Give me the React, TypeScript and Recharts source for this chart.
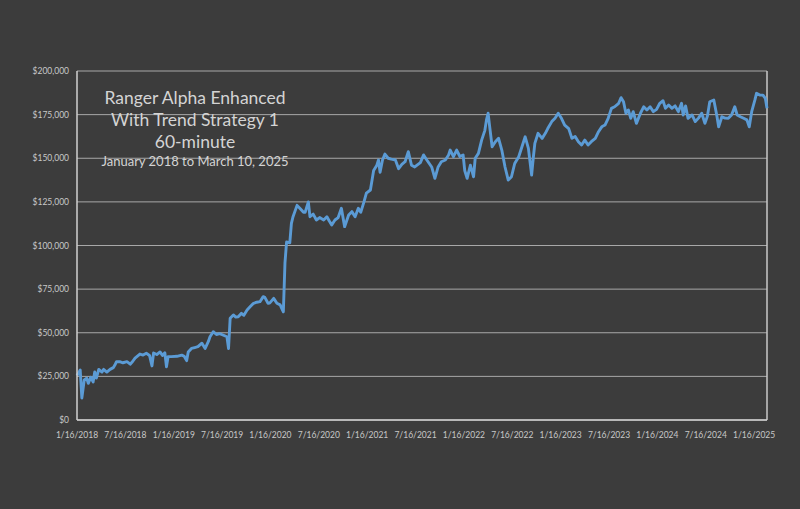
import React from 'react';
import { LineChart, Line, XAxis, YAxis, CartesianGrid, ReferenceLine } from 'recharts';

// months since 1/16/2018
const months = [
  0, 0.4, 0.6, 0.9, 1.2, 1.4, 1.7, 2.0, 2.2, 2.4, 2.7, 3.1, 3.3, 3.7, 4.1, 4.5, 4.7, 4.9, 5.3, 5.7,
  6.2, 6.6, 6.9, 7.2, 7.8, 8.2, 8.6, 9.0, 9.3, 9.5, 9.9, 10.3, 10.6, 10.9, 11.1, 11.3, 11.7, 12.4, 13.0, 13.3,
  13.6, 13.8, 14.2, 14.6, 15.0, 15.5, 15.9, 16.3, 16.5, 16.9, 17.3, 17.7, 18.1, 18.6, 18.8, 19.0, 19.4, 19.7, 20.0, 20.4,
  20.7, 21.1, 21.5, 21.9, 22.3, 22.7, 23.1, 23.3, 23.7, 23.9, 24.4, 24.8, 25.2, 25.6, 25.8, 26.0, 26.4, 26.6, 26.8, 27.3,
  27.7, 28.1, 28.3, 28.7, 28.9, 29.3, 29.7, 30.1, 30.6, 31.0, 31.3, 31.6, 32.0, 32.4, 32.8, 33.2, 33.7, 34.1, 34.5, 34.9,
  35.2, 35.6, 35.9, 36.4, 36.8, 37.2, 37.4, 37.6, 37.9, 38.2, 38.6, 39.0, 39.5, 39.9, 40.3, 40.7, 41.1, 41.5, 41.9, 42.6,
  43.0, 43.4, 44.0, 44.4, 44.8, 45.2, 45.7, 46.1, 46.3, 46.7, 47.1, 47.5, 47.9, 48.1, 48.4, 48.8, 49.2, 49.4, 49.8, 50.2,
  50.6, 50.8, 51.0, 51.2, 51.5, 51.9, 52.3, 52.7, 53.1, 53.5, 53.9, 54.3, 54.8, 55.2, 55.6, 56.0, 56.4, 56.6, 56.8, 57.2,
  57.7, 58.1, 58.4, 58.9, 59.3, 59.7, 60.1, 60.5, 61.0, 61.4, 61.8, 62.2, 62.6, 63.0, 63.4, 63.8, 64.3, 64.7, 65.1, 65.5,
  65.9, 66.3, 66.7, 67.2, 67.5, 67.8, 68.1, 68.4, 68.7, 69.0, 69.4, 69.9, 70.3, 70.7, 71.1, 71.5, 71.9, 72.3, 72.7, 73.0,
  73.4, 73.8, 74.2, 74.6, 75.0, 75.2, 75.5, 75.8, 76.3, 76.7, 77.1, 77.5, 77.9, 78.2, 78.5, 79.0, 79.2, 79.4, 79.6, 80.0,
  80.4, 80.8, 81.2, 81.6, 81.9, 82.3, 82.7, 83.1, 83.4, 83.7, 84.1, 84.3, 84.7, 85.1, 85.4, 85.6,
];

// equity in thousands of dollars
const equityK = [
  25.5, 28.6, 12.6, 23, 24, 21, 24.5, 21.8, 27.5, 24, 29, 27.5, 29, 27.5, 29, 30, 31.5, 33.4, 33.4, 32.8,
  33.4, 32, 33.5, 35.5, 37.8, 37.2, 38.2, 37, 31, 38.4, 37.5, 39, 37, 38.5, 30.5, 36.3, 36.3, 36.5, 37.2, 36.5,
  34, 39, 41, 41.5, 42, 44, 41, 45, 47.7, 50.6, 49, 49.5, 48.7, 47.7, 41, 58.3, 60.2, 59, 59.2, 61.1,
  60, 63, 65, 66.9, 67.5, 67.8, 70.7, 70.3, 66.9, 67, 69.7, 66.9, 66, 62, 90, 102, 101.5, 112.7, 116.5, 123,
  121, 119, 119, 125, 116.5, 118, 114.6, 116, 114.6, 116.5, 114, 111.7, 114.6, 116, 121.3, 110.8, 117.5, 119.4, 116.5, 121.3,
  119, 125, 130, 131.8, 143, 146, 149, 142, 149, 152.4, 150, 149.5, 149, 144, 146.5, 148, 153.8, 146, 145, 147.5,
  151.9, 149, 145, 138.5, 145, 148, 149, 151.9, 154.7, 150.9, 154.7, 151, 151.9, 143, 138.5, 146, 139.4, 150, 152.8, 160.4,
  166, 172, 175.8, 168, 156.6, 159.5, 161.4, 154.7, 145, 137.5, 139.4, 147, 150.9, 156.6, 162.3, 155.7, 140.4, 150, 158.5, 164.3,
  161.4, 164.3, 167, 171, 172.9, 175.8, 172.9, 169, 167, 161.4, 162.5, 159.5, 157.6, 160.4, 157.6, 159.5, 161.4, 165.2, 168, 169,
  172.9, 178.6, 179.5, 181.5, 184.7, 182.4, 175.8, 177.7, 172.9, 176.7, 170, 175.8, 179.5, 177.7, 179.5, 176.7, 178, 181.5, 183, 178.6,
  180.5, 178.6, 180, 176.7, 181.5, 174.8, 180, 172.9, 174.8, 171, 173, 175.8, 170, 174, 182.4, 183.4, 178.6, 173.8, 168, 173.8,
  173, 172.9, 174.8, 179.5, 174.8, 173.8, 172.9, 172, 168, 176.7, 183.4, 187.2, 186.2, 186.2, 184.3, 178.6,
];

const xTicks = [0, 6, 12, 18, 24, 30, 36, 42, 48, 54, 60, 66, 72, 78, 84];
const xTickLabels = [
  '1/16/2018', '7/16/2018', '1/16/2019', '7/16/2019', '1/16/2020', '7/16/2020', '1/16/2021', '7/16/2021',
  '1/16/2022', '7/16/2022', '1/16/2023', '7/16/2023', '1/16/2024', '7/16/2024', '1/16/2025',
];
const yTicks = [0, 25000, 50000, 75000, 100000, 125000, 150000, 175000, 200000];
const xEnd = 85.6;

const titleLines = ['Ranger Alpha Enhanced', 'With Trend Strategy 1', '60-minute'];
const subtitle = 'January 2018 to March 10, 2025';

const data = months.map((m, i) => ({ m, v: equityK[i] * 1000 }));

const FONT = 'Lato, "Open Sans", "DejaVu Sans", sans-serif';
const BG = '#3c3c3c';
const TEXT = '#d4d4d4';

export default function App() {
  return (
    <div style={{ position: 'absolute', left: 0, top: 0, width: 800, height: 509, background: BG, overflow: 'hidden' }}>
      <LineChart width={800} height={509} data={data} margin={{ top: 71, right: 33, left: 0, bottom: 59 }}>
        <CartesianGrid vertical={false} stroke="#a8a8a8" strokeWidth={1} />
        <XAxis
          dataKey="m"
          type="number"
          domain={[0, xEnd]}
          ticks={xTicks}
          tickFormatter={(v: number) => xTickLabels[xTicks.indexOf(v)] ?? ''}
          tickSize={0}
          tickMargin={12}
          height={30}
          axisLine={{ stroke: '#d0d0d0', strokeWidth: 1.5 }}
          tick={{ fill: '#c8c8c8', fontSize: 8.5, fontFamily: FONT }}
          interval={0}
        />
        <YAxis
          type="number"
          domain={[0, 200000]}
          ticks={yTicks}
          tickFormatter={(v: number) => '$' + v.toLocaleString('en-US')}
          tickSize={0}
          tickMargin={8}
          width={77}
          axisLine={{ stroke: '#d0d0d0', strokeWidth: 1.5 }}
          tick={{ fill: '#c8c8c8', fontSize: 8.5, fontFamily: FONT }}
          interval={0}
        />
        <ReferenceLine x={xEnd} stroke="#c8c8c8" strokeWidth={1.5} />
        <Line
          type="linear"
          dataKey="v"
          stroke="#5b9bd5"
          strokeWidth={2.9}
          dot={false}
          isAnimationActive={false}
          strokeLinejoin="round"
        />
      </LineChart>
      <div
        style={{
          position: 'absolute',
          left: 95,
          top: 87,
          width: 200,
          textAlign: 'center',
          color: TEXT,
          fontFamily: FONT,
        }}
      >
        {titleLines.map((t) => (
          <div key={t} style={{ fontSize: 17.5, lineHeight: '22px' }}>{t}</div>
        ))}
        <div style={{ fontSize: 13, lineHeight: '18px', marginTop: -1 }}>{subtitle}</div>
      </div>
    </div>
  );
}
